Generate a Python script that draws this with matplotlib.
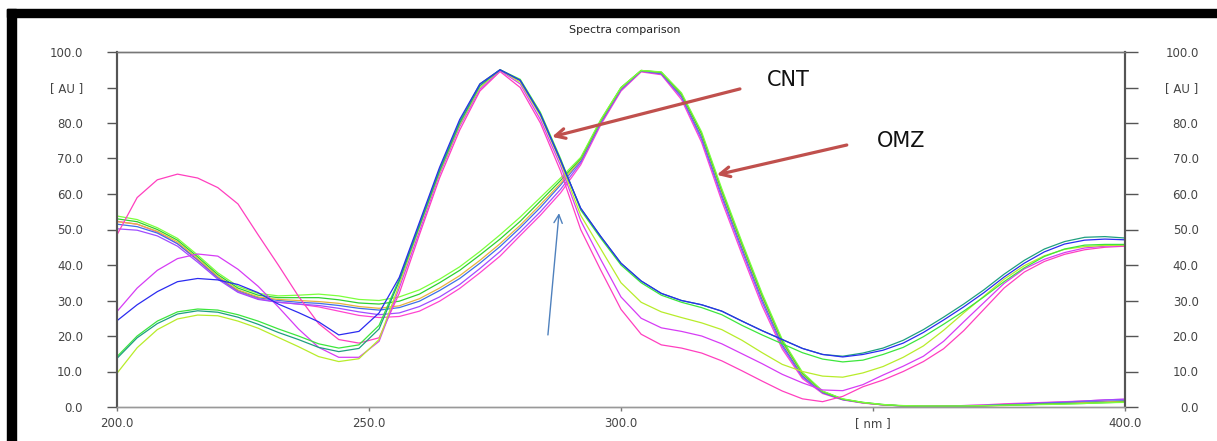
import matplotlib
matplotlib.use("Agg")
import matplotlib.pyplot as plt
from matplotlib.patches import Rectangle
import numpy as np

# wavelength grid (nm), 4 nm step
wavelength = np.arange(200, 401, 4)

# CNT spectra (peak ~276 nm)
cnt_teal = [13.7, 19.5, 23.5, 26.2, 27.1, 26.7, 25.3, 23.3, 21.0, 19.0, 16.8, 15.6, 16.5, 22.0,
            35.5, 51.0, 66.5, 80.0, 90.5, 95.0, 92.0, 82.5, 69.5,
            56.0, 48.0, 40.5, 35.5, 32.0, 30.0, 28.8, 27.0, 24.2, 21.5, 19.0, 16.5, 14.8,
            14.3, 15.2, 16.6, 18.8, 21.8, 25.3, 29.0, 33.0, 37.4, 41.3, 44.5, 46.6, 47.8, 48.0, 47.6]
cnt_blue = [24.3, 28.8, 32.5, 35.3, 36.2, 35.8, 34.5, 32.2, 29.0, 26.6, 24.0, 20.3, 21.3, 26.5,
            36.5, 52.0, 67.5, 81.0, 91.0, 95.0, 92.0, 82.5, 69.5,
            56.0, 48.0, 40.5, 35.5, 32.0, 30.0, 28.8, 27.0, 24.2, 21.5, 19.0, 16.5, 14.8,
            14.1, 14.8, 16.0, 18.0, 21.0, 24.5, 28.2, 32.2, 36.6, 40.5, 43.7, 45.9, 47.0, 47.3, 47.1]
cnt_green = [14.2, 20.0, 24.2, 26.8, 27.6, 27.3, 26.0, 24.2, 22.0, 20.0, 17.8, 16.6, 17.5, 23.0,
             36.0, 51.5, 67.0, 80.5, 91.0, 95.0, 92.3, 83.0, 70.0,
             55.5, 47.5, 40.0, 35.0, 31.5, 29.5, 28.0, 26.0, 23.0, 20.3, 17.8, 15.3, 13.5,
             12.7, 13.2, 14.8, 16.8, 19.8, 23.3, 27.0, 31.0, 35.3, 39.2, 42.4, 44.5, 45.6, 45.8, 45.8]
cnt_yellowgreen = [9.5, 16.7, 21.8, 24.8, 25.9, 25.7, 24.2, 22.2, 19.6, 17.0, 14.2, 12.8, 13.6, 19.0,
                   34.5, 50.5, 66.0, 79.5, 90.0, 95.0, 91.5, 82.0, 69.0,
                   54.0, 44.5, 35.0, 29.5, 26.8, 25.2, 23.7, 21.8, 18.8, 15.3, 12.0, 10.0, 8.7,
                   8.4, 9.6, 11.4, 14.0, 17.2, 21.6, 26.5, 31.2, 36.0, 39.8, 42.6, 44.4, 45.2, 45.5, 45.6]
cnt_violet = [26.9, 33.5, 38.5, 41.8, 43.1, 42.5, 38.8, 34.0, 28.2, 22.0, 16.8, 14.0, 14.0, 18.5,
              33.5, 49.5, 65.5, 79.0, 89.5, 94.8, 91.0, 81.0, 68.0,
              52.5, 41.5, 31.0, 25.0, 22.3, 21.3, 20.0, 17.8, 15.0, 12.2, 9.2, 6.8, 4.8,
              4.6, 6.3, 9.0, 11.5, 14.3, 18.5, 24.0, 29.4, 34.8, 38.9, 41.6, 43.5, 44.8, 45.3, 45.5]
cnt_pink = [48.5, 59.0, 64.0, 65.6, 64.5, 61.8, 57.2, 48.5, 40.0, 31.2, 23.5, 19.0, 18.0, 19.5,
            32.0, 48.5, 64.5, 78.0, 89.0, 94.5, 90.0, 80.0, 66.5,
            50.0, 38.5, 27.5, 20.5, 17.5, 16.6, 15.2, 13.0, 10.2, 7.3, 4.5, 2.3, 1.5,
            3.0, 5.7, 7.6, 10.0, 12.8, 16.4, 21.5, 27.5, 33.5, 38.0, 41.0, 43.0, 44.3, 45.0, 45.3]

# OMZ spectra (peak ~306 nm)
omz_lightgreen = [53.8, 52.8, 50.5, 47.5, 42.8, 37.8, 34.0, 32.0, 31.3, 31.5, 31.8, 31.3, 30.3, 30.0,
                  31.0, 33.0, 36.0, 39.5, 43.8, 48.5, 53.5, 59.0, 64.5,
                  70.3, 81.0, 90.0, 94.8, 94.4, 88.5, 77.5, 61.5, 46.5, 32.0, 19.0, 9.8, 4.5,
                  2.3, 1.3, 0.7, 0.4, 0.3, 0.3, 0.3, 0.4, 0.5, 0.6, 0.7, 0.8, 1.0, 1.2, 1.3]
omz_green = [53.0, 52.2, 50.0, 47.0, 42.3, 37.3, 33.5, 31.5, 30.8, 30.8, 30.8, 30.2, 29.3, 29.0,
             29.8, 31.8, 35.0, 38.5, 42.8, 47.3, 52.3, 58.0, 63.8,
             70.0, 80.8, 90.0, 94.8, 94.3, 88.2, 77.0, 61.0, 46.0, 31.5, 18.6, 9.5, 4.4,
             2.2, 1.3, 0.7, 0.3, 0.2, 0.2, 0.2, 0.3, 0.5, 0.6, 0.8, 0.9, 1.0, 1.2, 1.4]
omz_orange = [52.2, 51.5, 49.5, 46.5, 41.8, 36.8, 33.0, 31.0, 30.3, 30.0, 29.7, 29.2, 28.3, 27.8,
              28.5, 30.5, 33.5, 37.0, 41.3, 46.0, 51.2, 57.0, 63.0,
              69.7, 80.6, 89.8, 94.8, 94.2, 88.0, 76.7, 60.5, 45.5, 31.0, 18.2, 9.2, 4.3,
              2.2, 1.2, 0.6, 0.3, 0.2, 0.2, 0.2, 0.3, 0.4, 0.6, 0.8, 1.0, 1.2, 1.4, 1.6]
omz_blue = [51.5, 50.8, 49.0, 46.0, 41.5, 36.5, 32.8, 30.8, 30.0, 29.5, 29.2, 28.6, 27.8, 27.3,
            28.0, 29.8, 32.8, 36.2, 40.5, 45.2, 50.5, 56.2, 62.5,
            69.3, 80.3, 89.6, 94.7, 94.0, 87.6, 76.0, 59.8, 44.8, 30.3, 17.6, 8.8, 4.1,
            2.1, 1.2, 0.6, 0.3, 0.2, 0.2, 0.3, 0.4, 0.6, 0.8, 1.0, 1.2, 1.4, 1.6, 1.8]
omz_violet = [50.2, 49.8, 48.2, 45.3, 40.8, 36.0, 32.3, 30.3, 29.5, 29.0, 28.6, 27.8, 26.8, 26.0,
              26.5, 28.3, 31.0, 34.5, 39.0, 43.8, 49.3, 55.0, 61.3,
              68.8, 80.0, 89.3, 94.6, 93.8, 87.2, 75.3, 59.0, 44.0, 29.5, 17.0, 8.4, 4.0,
              2.1, 1.2, 0.6, 0.3, 0.2, 0.3, 0.4, 0.5, 0.7, 0.9, 1.2, 1.4, 1.7, 2.0, 2.2]
omz_pink = [52.3, 51.5, 49.3, 46.0, 41.3, 36.3, 32.5, 30.5, 29.5, 29.0, 28.2, 27.0, 25.8, 25.2,
            25.5, 27.0, 29.8, 33.4, 37.8, 42.5, 48.3, 54.0, 60.3,
            68.2, 79.5, 89.0, 94.4, 93.6, 86.6, 74.5, 58.0, 43.0, 28.5, 16.3, 8.0, 3.8,
            2.0, 1.1, 0.6, 0.3, 0.2, 0.3, 0.4, 0.6, 0.9, 1.1, 1.3, 1.5, 1.7, 2.0, 2.2]

x_ticks = [200, 250, 300, 350, 400]
x_tick_labels = ["200.0", "250.0", "300.0", "[ nm ]", "400.0"]
y_ticks = list(range(0, 101, 10))
y_tick_labels = ["0.0", "10.0", "20.0", "30.0", "40.0", "50.0", "60.0", "70.0", "80.0", "[ AU ]", "100.0"]

traces = [
    (omz_pink, "#ff44d0"),
    (omz_violet, "#a04cff"),
    (omz_blue, "#3f6fe8"),
    (omz_orange, "#e6b43c"),
    (omz_green, "#2ed12e"),
    (omz_lightgreen, "#7cff3c"),
    (cnt_pink, "#ff3fbf"),
    (cnt_violet, "#d63cf5"),
    (cnt_yellowgreen, "#b8ec2a"),
    (cnt_green, "#3ce63c"),
    (cnt_teal, "#1f9f7f"),
    (cnt_blue, "#2b2bf0"),
]

fig = plt.figure(figsize=(12.17, 4.41), dpi=100)
ax = fig.add_axes([117 / 1217, 1 - 407 / 441, (1125 - 117) / 1217, (407 - 52) / 441])

for values, color in traces:
    ax.plot(wavelength, values, color=color, linewidth=0.9)

ax.set_xlim(200, 400)
ax.set_ylim(0, 100)

ax.set_xticks(x_ticks)
ax.set_xticklabels(x_tick_labels)
ax.set_yticks(y_ticks)
ax.set_yticklabels(y_tick_labels)
ax.tick_params(axis="x", length=3, width=1, colors="#777", labelcolor="#444",
               labelsize=8.5, pad=4)
ax.tick_params(axis="y", length=7.5, width=1, colors="#555", labelcolor="#444",
               labelsize=8.5, pad=17)

# right-hand copy of the intensity axis
ax2 = ax.twinx()
ax2.set_ylim(0, 100)
ax2.set_yticks(y_ticks)
ax2.set_yticklabels(y_tick_labels)
ax2.tick_params(axis="y", length=9, width=1, colors="#555", labelcolor="#444",
                labelsize=8.5, pad=44)
for lbl in ax2.get_yticklabels():
    lbl.set_horizontalalignment("right")

for a in (ax, ax2):
    a.spines["left"].set_color("#555")
    a.spines["right"].set_color("#555")
    a.spines["left"].set_linewidth(1.5)
    a.spines["right"].set_linewidth(1.5)
    a.spines["top"].set_color("#777")
    a.spines["bottom"].set_color("#999")
    a.spines["top"].set_linewidth(1.0)
    a.spines["bottom"].set_linewidth(1.0)

fig.text(625 / 1217, 1 - 30 / 441, "Spectra comparison", ha="center", va="center",
         fontsize=8, color="#222")

# annotations
red = "#c0504d"
ax.annotate("", xy=(286.3, 76.1), xytext=(323.6, 89.6),
            arrowprops=dict(arrowstyle="->,head_length=0.7,head_width=0.35",
                            color=red, lw=2.3, shrinkA=0, shrinkB=0))
ax.annotate("", xy=(319.0, 65.4), xytext=(344.8, 73.8),
            arrowprops=dict(arrowstyle="->,head_length=0.7,head_width=0.35",
                            color=red, lw=2.3, shrinkA=0, shrinkB=0))
ax.annotate("", xy=(287.7, 54.6), xytext=(285.5, 20.3),
            arrowprops=dict(arrowstyle="->,head_length=0.6,head_width=0.3",
                            color="#4f81bd", lw=1.0, shrinkA=0, shrinkB=0))
ax.text(333.1, 92.1, "CNT", fontsize=15, ha="center", va="center", color="#111")
ax.text(355.6, 74.9, "OMZ", fontsize=15, ha="center", va="center", color="#111")

# black frame of the screenshot
fig.add_artist(Rectangle((7 / 1217, 1 - 16.7 / 441), (1217 - 7) / 1217, 7.7 / 441,
                         transform=fig.transFigure, color="black"))
fig.add_artist(Rectangle((7 / 1217, 0), 9 / 1217, 1 - 9 / 441,
                         transform=fig.transFigure, color="black"))

fig.savefig("out.png", dpi=100)
